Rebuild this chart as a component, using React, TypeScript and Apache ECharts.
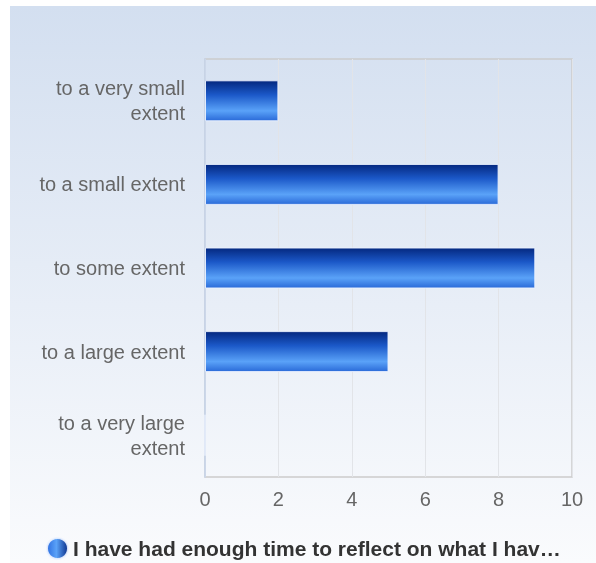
import React, { useEffect, useRef } from "react";
import * as echarts from "echarts";

const categories = [
  "to a very small extent",
  "to a small extent",
  "to some extent",
  "to a large extent",
  "to a very large extent",
];
const values = [2, 8, 9, 5, 0];
const seriesName = "I have had enough time to reflect on what I have learned";
const legendLabel = "I have had enough time to reflect on what I hav…";
const xTicks = { min: 0, max: 10, interval: 2 };

export default function App() {
  const ref = useRef<HTMLDivElement>(null);
  useEffect(() => {
    if (!ref.current) return;
    const chart = echarts.init(ref.current, null, { renderer: "svg" });
    const barGrad = new echarts.graphic.LinearGradient(0, 0, 0, 1, [
      { offset: 0, color: "#04287f" },
      { offset: 0.35, color: "#1b58c8" },
      { offset: 0.75, color: "#5aa2f8" },
      { offset: 1, color: "#2a6ad8" },
    ]);
    const iconGrad = new echarts.graphic.LinearGradient(0, 0, 1, 0, [
      { offset: 0, color: "#2f6fe0" },
      { offset: 0.45, color: "#5aa2f8" },
      { offset: 1, color: "#0a2f8a" },
    ]);
    chart.setOption({
      animation: false,
      textStyle: { fontFamily: "Liberation Sans, Arial, sans-serif" },
      graphic: [
        {
          type: "rect",
          left: 10,
          top: 6,
          z: -10,
          silent: true,
          shape: { width: 586, height: 557 },
          style: {
            fill: new echarts.graphic.LinearGradient(0, 0, 0, 1, [
              { offset: 0, color: "#d3dff0" },
              { offset: 1, color: "#fafbfd" },
            ]),
          },
        },
      ],
      grid: {
        left: 205,
        top: 59,
        right: 24,
        bottom: 86,
        show: true,
        backgroundColor: "transparent",
        borderColor: "#cccccc",
        borderWidth: 1.5,
      },
      legend: {
        show: true,
        left: 46,
        top: 537,
        padding: 0,
        itemWidth: 21,
        itemHeight: 21,
        itemGap: 6,
        icon: "circle",
        data: [{ name: seriesName, itemStyle: { color: iconGrad } }],
        formatter: () => legendLabel,
        textStyle: {
          fontSize: 21,
          fontWeight: "bold",
          color: "#333333",
        },
      },
      xAxis: {
        type: "value",
        min: xTicks.min,
        max: xTicks.max,
        interval: xTicks.interval,
        axisLine: { show: false },
        axisTick: { show: false },
        axisLabel: { fontSize: 20, color: "#666666", margin: 12 },
        splitLine: { lineStyle: { color: "#e2e4e8", width: 1 } },
      },
      yAxis: {
        type: "category",
        inverse: true,
        data: categories,
        axisLine: { show: true, lineStyle: { color: "#c5d3ea", width: 1.5 } },
        axisTick: { show: false },
        splitLine: { show: false },
        axisLabel: {
          fontSize: 20,
          color: "#666666",
          margin: 20,
          lineHeight: 25,
          align: "right",
          formatter: (v: string) =>
            v.length > 18 ? v.replace(/ (\S+)$/, "\n$1") : v,
        },
      },
      series: [
        {
          name: seriesName,
          type: "bar",
          data: values,
          barWidth: "49%",
          itemStyle: {
            color: barGrad,
            borderColor: "rgba(235,242,255,0.9)",
            borderWidth: 1,
          },
        },
      ],
    });
    return () => chart.dispose();
  }, []);
  return (
    <div
      ref={ref}
      style={{ position: "fixed", left: 0, top: 0, width: 596, height: 563 }}
    />
  );
}
